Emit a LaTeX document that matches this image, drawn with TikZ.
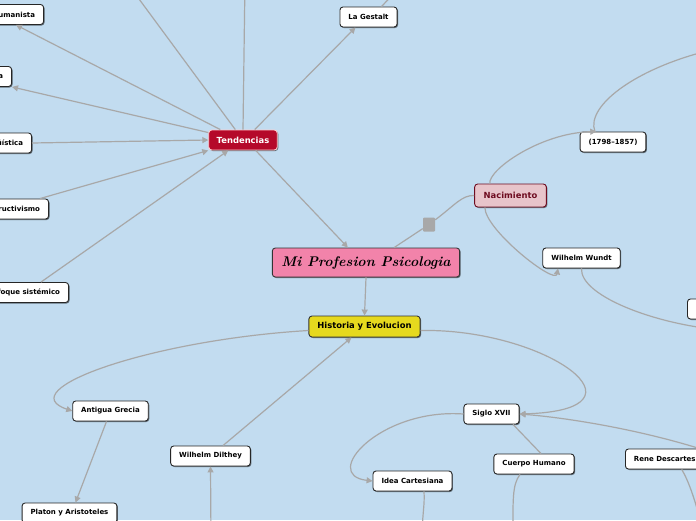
\documentclass[tikz,border=0pt]{standalone}
\usepackage{fontspec}
\newfontfamily\mapfont{DejaVu Sans}
\usetikzlibrary{arrows.meta,calc,shadows}
\definecolor{mapbg}{RGB}{194,220,240}
\definecolor{wire}{RGB}{168,168,168}
\definecolor{tendred}{RGB}{181,9,42}
\definecolor{mainpink}{RGB}{242,131,170}
\definecolor{histyellow}{RGB}{230,217,30}
\definecolor{nacpink}{RGB}{232,196,202}
\definecolor{nacdark}{RGB}{110,12,32}

\begin{document}
\begin{tikzpicture}[
    x=1pt, y=-1pt,
    box/.style={rectangle, draw=black!85, fill=white, rounded corners=3pt, line width=0.9pt, minimum height=20pt, inner xsep=8.5pt, inner ysep=0pt, font=\mapfont\bfseries\fontsize{7}{8}\selectfont, drop shadow={shadow xshift=1pt, shadow yshift=-1pt, opacity=0.5, fill=black}},
    topic/.style={box, fill=mainpink, draw=black!80, minimum height=29pt, inner xsep=9pt, font=\bfseries\itshape\fontsize{14}{16}\selectfont},
    tendbox/.style={box, fill=tendred, draw=red!20, text=white, inner xsep=8pt, font=\mapfont\bfseries\fontsize{8.4}{10}\selectfont},
    histbox/.style={box, fill=histyellow, draw=black!80, minimum height=21pt, font=\mapfont\bfseries\fontsize{8.4}{10}\selectfont},
    nacbox/.style={box, fill=nacpink, draw=nacdark, text=nacdark, minimum height=23pt, inner xsep=9pt, font=\mapfont\bfseries\fontsize{8.4}{10}\selectfont},
    handle/.style={rectangle, fill=wire, rounded corners=1pt, minimum width=12pt, minimum height=14pt, inner sep=0pt},
    arrow/.style={draw=wire, line width=1.2pt, -{Triangle[length=6pt,width=6pt]}},
    link/.style={draw=wire, line width=1.2pt}
]
\useasboundingbox (0,0) rectangle (696,520);
\clip (0,0) rectangle (696,520);
\fill[mapbg] (0,0) rectangle (696,520);

% Central topic
\node[topic] (main) at (366,262.5) {Mi Profesion Psicologia};

% Main branches
\node[tendbox] (tend) at (243,140) {Tendencias};
\node[histbox] (hist) at (364.5,326.5) {Historia y Evolucion};
\node[nacbox] (nac) at (510.5,195.5) {Nacimiento};
\node[handle] (sq) at (429,224.5) {};

% Tendencias: subtopics
\node[box, anchor=east] (hum) at (44,14.5) {umanista};
\node[box, anchor=east] (psa) at (12,76.5) {a};
\node[box, anchor=east] (ling) at (32,143) {üística};
\node[box, anchor=east] (cons) at (49,209) {ructivismo};
\node[box, anchor=east] (enf) at (69,292.5) {foque sistémico};
\node[box] (gest) at (368.5,17) {La Gestalt};

% Nacimiento: subtopics
\node[box] (yr) at (613,142) {(1798–1857)};
\node[box] (wundt) at (581.5,258) {Wilhelm Wundt};
\node[box, anchor=west, minimum width=30pt] (rnode) at (687,309) {};

% Historia: subtopics
\node[box] (grecia) at (110.5,411) {Antigua Grecia};
\node[box] (platon) at (69.5,513) {Platon y Aristoteles};
\node[box] (dilthey) at (210.5,456) {Wilhelm Dilthey};
\node[box] (siglo) at (491.5,414) {Siglo XVII};
\node[box] (idea) at (412.5,481) {Idea Cartesiana};
\node[box] (cuerpo) at (534,464) {Cuerpo Humano};
\node[box, anchor=west] (rene) at (625,459) {Rene Descartes};

% Ends outside the page
\coordinate (up1) at (125,-20);
\coordinate (up2) at (245,-20);
\coordinate (gestup) at (400,-13);
\coordinate (yrup) at (720,48);
\coordinate (wundtoff) at (712,329);
\coordinate (diltheyin) at (211,540);
\coordinate (ideaoff) at (422,540);
\coordinate (cuerpooff) at (513,540);
\coordinate (reneoff) at (705,540);

% Arrows: Tendencias
\draw[arrow] ($(tend.north west)+(12,0)$) -- ($(hum.south east)+(-28,0)$);
\draw[arrow] ($(tend.north west)+(0,3)$) -- (psa.south east);
\draw[arrow] (ling.east) -- (tend.west);
\draw[arrow] ($(cons.north east)+(-9,0)$) -- (tend.south west);
\draw[arrow] ($(enf.north east)+(-28,0)$) -- ($(tend.south west)+(20,0)$);
\draw[link] ($(tend.north west)+(27,0)$) -- (up1);
\draw[link] (tend.north) -- (up2);
\draw[arrow] ($(tend.north east)+(-23,0)$) -- ($(gest.south west)+(16,0)$);
\draw[link] ($(gest.north east)+(-16,0)$) -- (gestup);
\draw[arrow] ($(tend.south east)+(-22,0)$) -- ($(main.north west)+(76,0)$);

% Arrows: Nacimiento
\draw[link] (main.28) -- (sq) .. controls (455,205) and (462,195) .. (nac.west);
\draw[arrow] (nac.150) .. controls (488,170) and (540,133) .. (yr.148);
\draw[link] (yr.150) .. controls (585,105) and (640,65) .. (yrup);
\draw[arrow] (nac.205) .. controls (485,230) and (555,285) .. (wundt.204);
\draw[link] (wundt.south) .. controls (580,295) and (650,322) .. (wundtoff);

% Arrows: Historia
\draw[arrow] (main.south) -- (hist.north);
\draw[arrow] ($(hist.west)+(0,4)$) .. controls (150,340) and (10,390) .. (grecia.west);
\draw[arrow] ($(grecia.south)+(-4,0)$) -- ($(platon.north)+(6,0)$);
\draw[arrow] ($(dilthey.north)+(12.5,0)$) -- ($(hist.south west)+(43,0)$);
\draw[arrow] (diltheyin) -- (dilthey.south);
\draw[arrow] ($(hist.east)+(0,4)$) .. controls (545,328) and (660,410) .. (siglo.east);
\draw[arrow] (siglo.west) .. controls (380,408) and (320,475) .. (idea.west);
\draw[link] ($(siglo.south)+(21.5,0)$) -- ($(cuerpo.north)+(7,0)$);
\draw[arrow] ($(rene.north east)+(-5,0)$) .. controls (640,430) and (570,418) .. (siglo.east);
\draw[link] ($(idea.south)+(11.5,0)$) .. controls (425,505) and (422,515) .. (ideaoff);
\draw[link] ($(cuerpo.south)+(-14,0)$) .. controls (512,485) and (513,500) .. (cuerpooff);
\draw[link] ($(rene.south)+(17,0)$) .. controls (688,480) and (696,500) .. (reneoff);

\end{tikzpicture}
\end{document}
